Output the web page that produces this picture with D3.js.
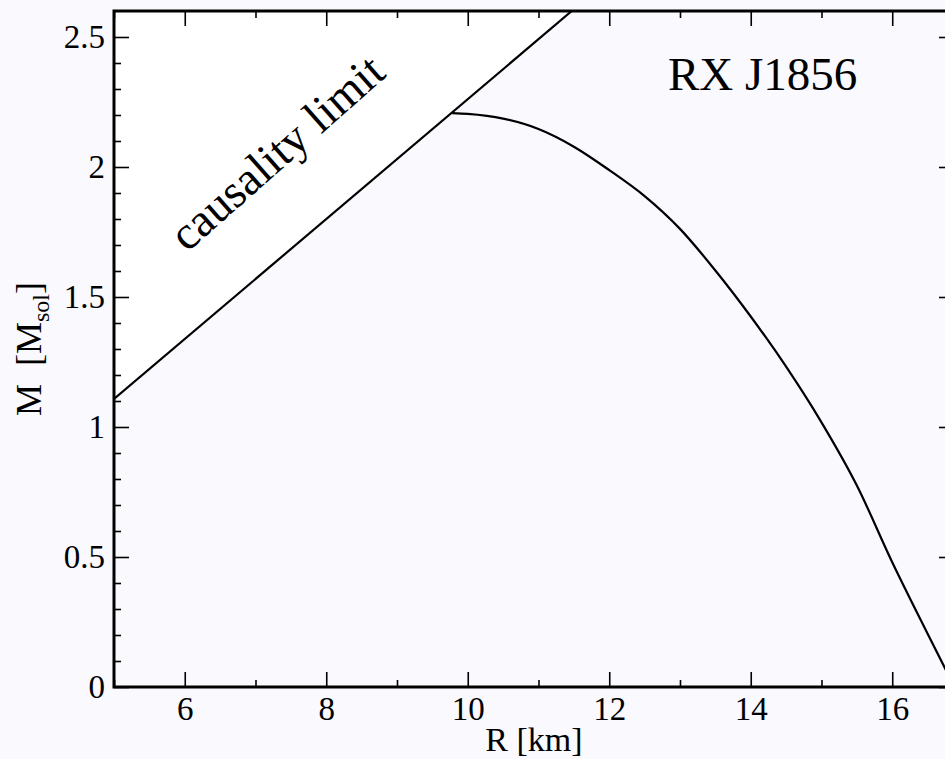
<!DOCTYPE html>
<html><head><meta charset="utf-8">
<script src="https://cdn.jsdelivr.net/npm/d3@7"></script>
<style>
html,body{margin:0;padding:0;background:#f9f9fe;}
svg{display:block;}
text{font-family:"Liberation Serif","Times New Roman",serif;fill:#000;}
</style></head>
<body>
<svg id="chart" width="945" height="759"></svg>
<script>
// Data
const radiusKm = [9.78, 10.0, 10.5, 11.0, 11.5, 12.0, 12.5, 13.0, 13.5, 14.0, 14.5, 15.0, 15.5, 16.0, 16.5, 16.87];
const massSol  = [2.207, 2.204, 2.186, 2.146, 2.078, 1.988, 1.888, 1.762, 1.602, 1.425, 1.232, 1.018, 0.775, 0.480, 0.205, 0.005];
const causalityR = [5.0, 11.47];
const causalityM = [1.108, 2.6];
const xMajorTicks = [6, 8, 10, 12, 14, 16];
const xMinorTicks = [5, 7, 9, 11, 13, 15];
const yMajorTicks = [0, 0.5, 1, 1.5, 2, 2.5];
const yMinorTicks = [0.1,0.2,0.3,0.4,0.6,0.7,0.8,0.9,1.1,1.2,1.3,1.4,1.6,1.7,1.8,1.9,2.1,2.2,2.3,2.4];
const yTickLabels = ["0", "0.5", "1", "1.5", "2", "2.5"];
const xTickLabels = ["6", "8", "10", "12", "14", "16"];

const svg = d3.select("#chart");
const L = 114, T = 11, W = 840, H = 676;
const x = d3.scaleLinear().domain([5, 16.873]).range([0, W]);
const y = d3.scaleLinear().domain([0, 2.6]).range([H, 0]);

const g = svg.append("g").attr("transform", `translate(${L},${T})`);

g.append("clipPath").attr("id","clip").append("rect").attr("width",W).attr("height",H);

// white triangle above causality line
const tri = [[causalityR[0], causalityM[0]], [causalityR[1], causalityM[1]], [5, 2.6]];
g.append("path").attr("clip-path","url(#clip)")
  .attr("d", d3.line().x(d=>x(d[0])).y(d=>y(d[1]))(tri) + "Z")
  .attr("fill", "#ffffff");

// causality line
g.append("path").attr("clip-path","url(#clip)")
  .datum(causalityR.map((r,i)=>[r, causalityM[i]]))
  .attr("d", d3.line().x(d=>x(d[0])).y(d=>y(d[1])))
  .attr("fill","none").attr("stroke","#000").attr("stroke-width",2.2);

// M-R curve
g.append("path").attr("clip-path","url(#clip)")
  .datum(radiusKm.map((r,i)=>[r, massSol[i]]))
  .attr("d", d3.line().x(d=>x(d[0])).y(d=>y(d[1])).curve(d3.curveMonotoneX))
  .attr("fill","none").attr("stroke","#000").attr("stroke-width",2.2);

function styleAxis(sel){
  sel.select(".domain").remove();
  sel.selectAll(".tick line").attr("stroke","#000").attr("stroke-width",1.6);
  sel.selectAll(".tick text").attr("font-size",33).attr("font-family","Liberation Serif");
}
// bottom
g.append("g").attr("transform",`translate(0,${H})`)
  .call(d3.axisBottom(x).tickValues(xMajorTicks).tickSize(-15).tickPadding(10).tickFormat((d,i)=>xTickLabels[i]))
  .call(styleAxis);
g.append("g").attr("transform",`translate(0,${H})`)
  .call(d3.axisBottom(x).tickValues(xMinorTicks).tickSize(-7).tickFormat(""))
  .call(styleAxis);
// top
g.append("g").call(d3.axisTop(x).tickValues(xMajorTicks).tickSize(-15).tickFormat("")).call(styleAxis);
g.append("g").call(d3.axisTop(x).tickValues(xMinorTicks).tickSize(-7).tickFormat("")).call(styleAxis);
// left
g.append("g")
  .call(d3.axisLeft(y).tickValues(yMajorTicks).tickSize(-15).tickPadding(9).tickFormat((d,i)=>yTickLabels[i]))
  .call(styleAxis);
g.append("g").call(d3.axisLeft(y).tickValues(yMinorTicks).tickSize(-7).tickFormat("")).call(styleAxis);
// right
g.append("g").attr("transform",`translate(${W},0)`)
  .call(d3.axisRight(y).tickValues(yMajorTicks).tickSize(-15).tickFormat("")).call(styleAxis);
g.append("g").attr("transform",`translate(${W},0)`)
  .call(d3.axisRight(y).tickValues(yMinorTicks).tickSize(-7).tickFormat("")).call(styleAxis);

// frame
g.append("rect").attr("width",W).attr("height",H).attr("fill","none").attr("stroke","#000").attr("stroke-width",3);

// axis titles
svg.append("text").attr("x", L + W/2).attr("y", 751).attr("text-anchor","middle")
  .attr("font-size",34).text("R [km]");
const yt = svg.append("text").attr("transform",`translate(41,${T+H/2}) rotate(-90)`)
  .attr("text-anchor","middle").attr("font-size",36).attr("xml:space","preserve");
yt.append("tspan").text("M\u00a0\u00a0[M");
yt.append("tspan").attr("font-size",24).attr("dy",8).text("sol");
yt.append("tspan").attr("dy",-8).text("]");

// annotations
svg.append("text").attr("x",668).attr("y",90).attr("font-size",47).text("RX J1856");
svg.append("text").attr("transform","translate(187,253) rotate(-41.5)")
  .attr("font-size",47).text("causality limit");
</script>
</body></html>
